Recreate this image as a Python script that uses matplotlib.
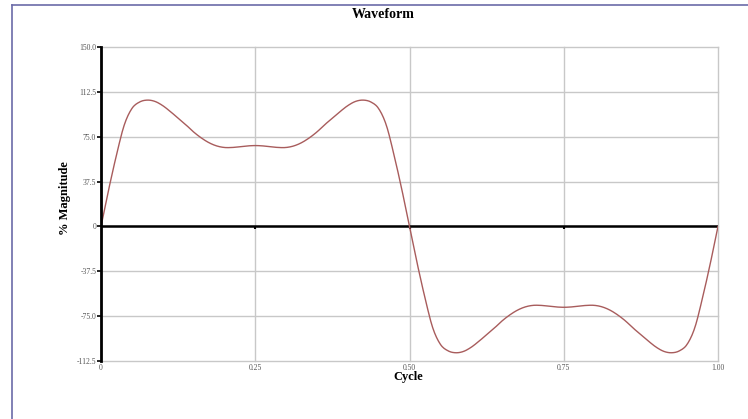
import numpy as np
import matplotlib
matplotlib.use("Agg")
import matplotlib.pyplot as plt
from matplotlib.lines import Line2D

# One cycle of the waveform, sampled every 1/80 of a cycle (% of nominal)
cycle = [i / 80 for i in range(81)]
magnitude = [
    0.0, 31.0, 59.5, 84.5, 98.5, 104.0, 105.6, 104.5, 101.0, 96.0,
    90.5, 85.0, 79.0, 74.0, 70.0, 67.3, 66.0, 66.0, 66.6, 67.3,
    67.6, 67.3, 66.6, 66.0, 66.0, 67.3, 70.0, 74.0, 79.0, 85.0,
    90.5, 96.0, 101.0, 104.5, 105.6, 104.0, 98.5, 84.5, 59.5, 31.0,
    0.0, -31.0, -59.5, -84.5, -98.5, -104.0, -105.6, -104.5, -101.0, -96.0,
    -90.5, -85.0, -79.0, -74.0, -70.0, -67.3, -66.0, -66.0, -66.6, -67.3,
    -67.6, -67.3, -66.6, -66.0, -66.0, -67.3, -70.0, -74.0, -79.0, -85.0,
    -90.5, -96.0, -101.0, -104.5, -105.6, -104.0, -98.5, -84.5, -59.5, -31.0,
    0.0,
]

x_ticks = [0, 0.25, 0.50, 0.75, 1.00]
x_tick_labels = ["0", "0.25", "0.50", "0.75", "1.00"]
y_ticks = [-112.5, -75.0, -37.5, 0, 37.5, 75.0, 112.5, 150.0]
y_tick_labels = ["-112.5", "-75.0", "-37.5", "0", "37.5", "75.0", "112.5", "150.0"]


def smooth_through(xs, ys, steps=8):
    """Catmull-Rom curve passing through every sample, for a smooth trace."""
    xs = np.asarray(xs, float)
    ys = np.asarray(ys, float)
    px = np.concatenate([[2 * xs[0] - xs[1]], xs, [2 * xs[-1] - xs[-2]]])
    py = np.concatenate([[2 * ys[0] - ys[1]], ys, [2 * ys[-1] - ys[-2]]])
    out_x, out_y = [xs[0]], [ys[0]]
    t = np.linspace(0, 1, steps + 1)[1:]
    for i in range(1, len(px) - 2):
        for p, out in ((px, out_x), (py, out_y)):
            p0, p1, p2, p3 = p[i - 1], p[i], p[i + 1], p[i + 2]
            seg = 0.5 * ((2 * p1) + (-p0 + p2) * t
                         + (2 * p0 - 5 * p1 + 4 * p2 - p3) * t ** 2
                         + (-p0 + 3 * p1 - 3 * p2 + p3) * t ** 3)
            out.extend(seg)
    return np.array(out_x), np.array(out_y)


W, H = 748, 419
fig = plt.figure(figsize=(W / 100, H / 100), dpi=100)
fig.patch.set_facecolor("white")

serif = ["Liberation Serif", "DejaVu Serif"]

# outer panel border (left and top edges)
border = "#6b6ba8"
fig.add_artist(Line2D([12 / W, 12 / W], [0, 1 - 5 / H], color=border, lw=1.2,
                      transform=fig.transFigure))
fig.add_artist(Line2D([12 / W, 1], [1 - 5 / H, 1 - 5 / H], color=border, lw=1.2,
                      transform=fig.transFigure))

left, right, top, bottom = 101, 718, 47, 361
ax = fig.add_axes([left / W, 1 - bottom / H, (right - left) / W, (bottom - top) / H])

ax.set_xlim(0, 1)
ax.set_ylim(-112.5, 150)

grid_c = "#c8c8c8"
for yv in y_ticks:
    ax.axhline(yv, color=grid_c, lw=1.0, zorder=1, clip_on=False)
for xv in x_ticks:
    ax.axvline(xv, color=grid_c, lw=1.0, zorder=1, clip_on=False)

# zero line
ax.axhline(0, color="black", lw=1.8, zorder=3)
for xv in x_ticks[1:-1]:
    ax.plot([xv, xv], [0, -2.5], color="black", lw=1.5, zorder=3, solid_capstyle="butt")

sx, sy = smooth_through(cycle, magnitude)
ax.plot(sx, sy, color="#a85c5c", lw=1.0, zorder=4)

for s in ["top", "right", "bottom"]:
    ax.spines[s].set_visible(False)
ax.spines["left"].set_color("black")
ax.spines["left"].set_linewidth(2.0)
ax.spines["left"].set_zorder(5)

ax.set_yticks(y_ticks)
ax.set_yticklabels(y_tick_labels)
ax.set_xticks(x_ticks)
ax.set_xticklabels(x_tick_labels)
ax.tick_params(axis="y", direction="out", length=3, width=1.2, color="black",
               labelsize=5.5, labelcolor="#555555", pad=0.5)
ax.tick_params(axis="x", length=0, labelsize=5.5, labelcolor="#555555", pad=2)
for lab in ax.get_xticklabels() + ax.get_yticklabels():
    lab.set_family(serif)

fig.text(383 / W, 1 - 15 / H, "Waveform", ha="center", va="center",
         fontsize=10, fontweight="bold", family=serif)
fig.text(408 / W, 1 - 377 / H, "Cycle", ha="center", va="center",
         fontsize=9, fontweight="bold", family=serif)
fig.text(65 / W, 1 - 198 / H, "% Magnitude", ha="center", va="center",
         rotation=90, fontsize=9, fontweight="bold", family=serif)

fig.savefig("out.png", dpi=100, facecolor="white")
